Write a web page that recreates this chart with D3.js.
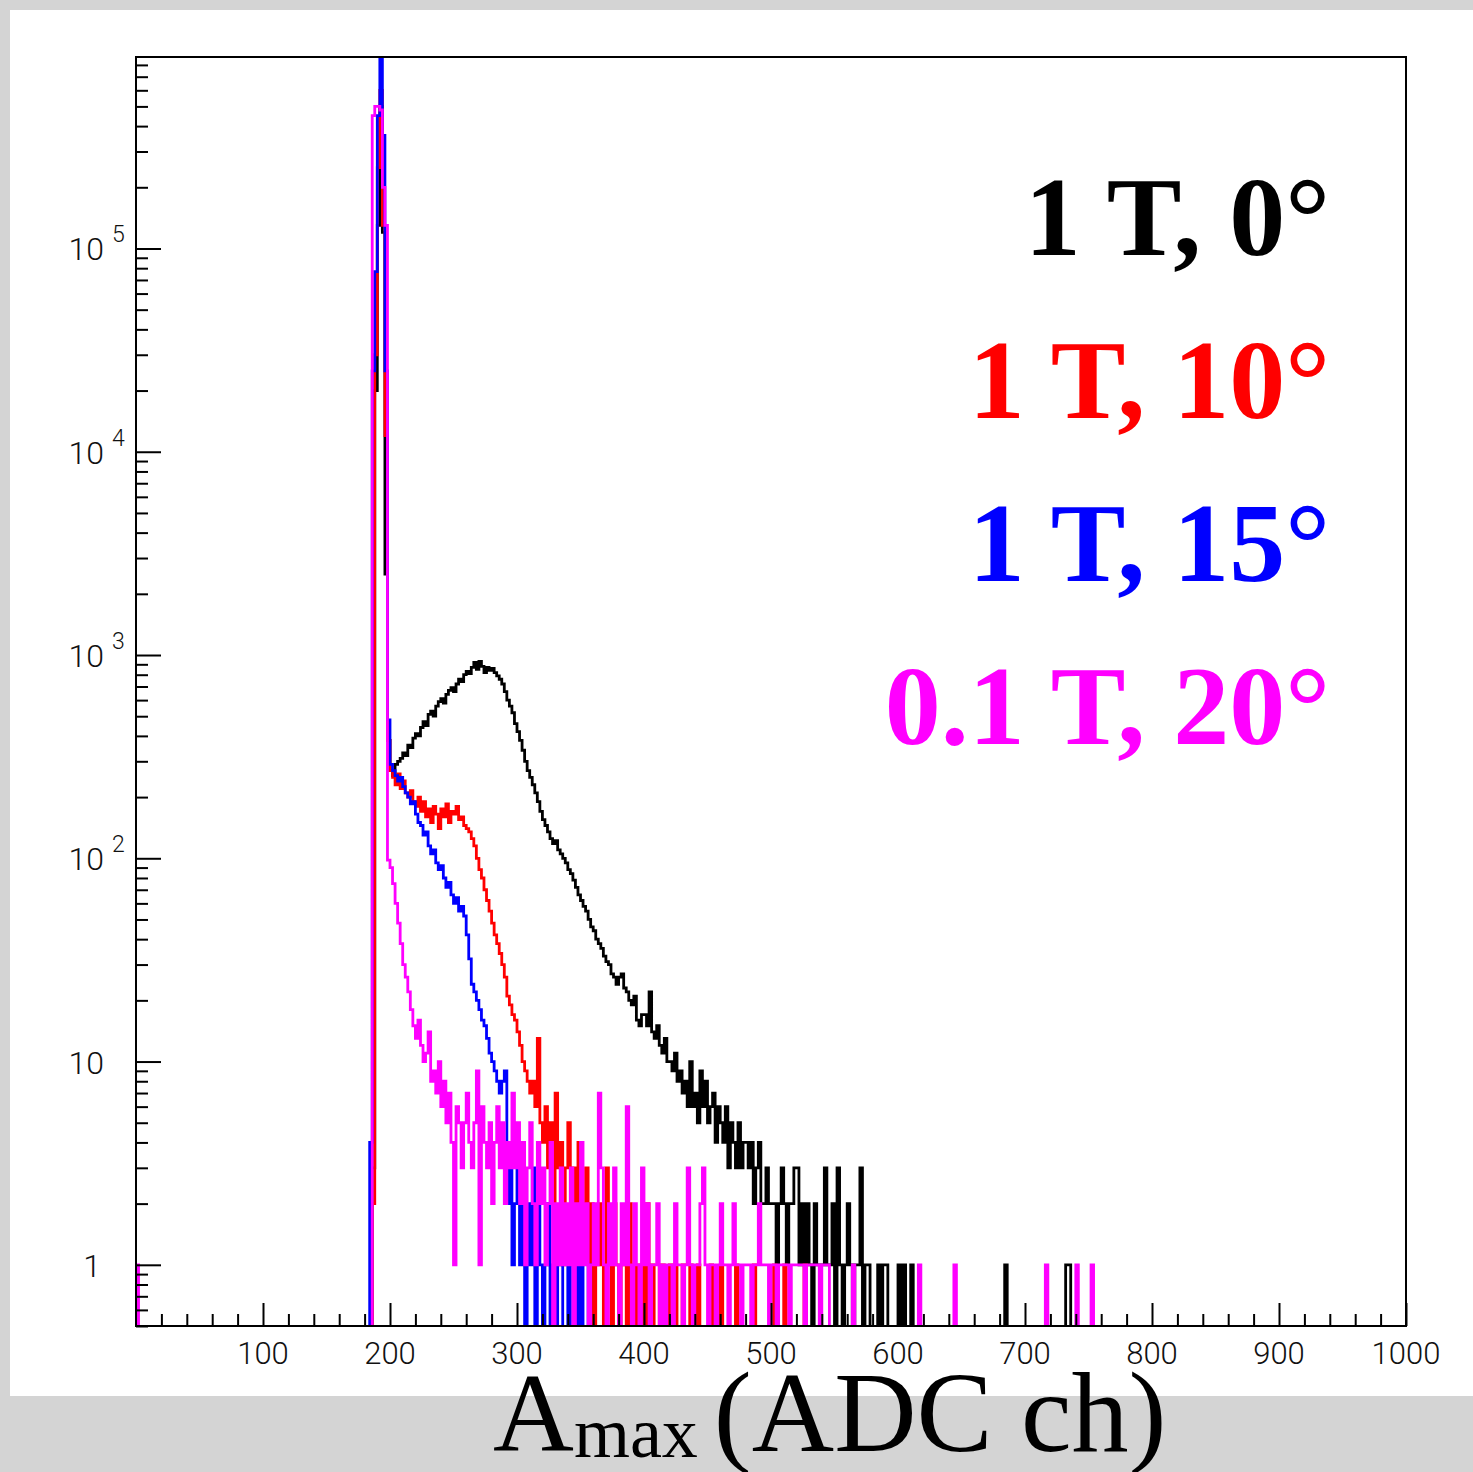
<!DOCTYPE html>
<html>
<head>
<meta charset="utf-8">
<script src="https://cdn.jsdelivr.net/npm/d3@7"></script>
<style>
  body { margin: 0; background: #d4d4d4; }
  svg { display: block; }
</style>
</head>
<body>
<div id="chart"></div>
<script>
// data: counts per 2-channel bin, dense part starts at channel 180
var binWidth = 2,
    denseStart = 180;

var blackCounts = [
  0, 0, 0, 3, 2e4, 1.3e5, 5e5, 1.2e5, 2500, 380,
  270, 255, 290, 300, 310, 330, 320, 360, 350, 390,
  410, 400, 440, 470, 450, 510, 530, 500, 560, 590,
  610, 580, 640, 670, 690, 660, 720, 760, 740, 800,
  830, 810, 870, 920, 850, 930, 880, 820, 870, 840,
  860, 820, 790, 760, 720, 660, 600, 560, 520, 460,
  420, 380, 340, 300, 270, 250, 230, 210, 190, 170,
  155, 145, 135, 125, 118, 122, 110, 105, 100, 95,
  88, 84, 78, 72, 66, 62, 58, 55, 50, 46,
  44, 40, 38, 36, 33, 31, 30, 27, 26, 24,
  26, 27, 23, 22, 20, 19, 21, 16, 15, 17,
  17, 15, 22, 14, 13, 15, 12, 11, 13, 10,
  10, 9, 11, 8, 9, 7, 8, 6, 10, 6,
  7, 5, 9, 6, 8, 5, 6, 7, 4, 6,
  5, 4, 6, 3, 5, 4, 3, 5, 3, 4,
  4, 3, 4, 2, 3, 4, 2, 2, 3, 2,
  2, 2, 1, 2, 3, 2, 1, 2, 2, 3,
  3, 1, 2, 1, 2, 1, 0, 2, 1, 1,
  1, 3, 1, 1, 2, 0, 3, 1, 0, 1,
  2, 1, 0, 1, 1, 3, 0, 1, 1, 0,
  0, 0, 1, 0, 1, 1, 0, 0, 0, 0,
  1, 0, 1, 0, 0, 1, 0, 0, 0, 0
];
var blackExtraCh = [684, 732, 734],
    blackExtraN = [1, 1, 1];

var redCounts = [
  0, 0, 0, 2, 3e4, 2.5e5, 6e5, 1.3e5, 1.2e4, 380,
  270, 250, 230, 260, 220, 240, 210, 200, 215, 190,
  180, 200, 170, 190, 160, 175, 150, 180, 165, 140,
  175, 160, 185, 150, 170, 165, 180, 155, 160, 145,
  140, 135, 125, 115, 100, 88, 80, 70, 62, 55,
  48, 42, 38, 34, 30, 26, 21, 19, 17, 16,
  14, 12, 10, 9, 8, 7, 8, 6, 13, 5,
  4, 6, 3, 5, 2, 7, 3, 4, 1, 3,
  5, 1, 3, 2, 4, 1, 2, 3, 1, 2,
  0, 1, 2, 1, 0, 3, 1, 0, 2, 1,
  0, 1, 1, 0, 2, 1, 0, 1, 0, 1,
  0, 2, 0, 1, 0, 0, 1, 1, 0, 0,
  1, 0, 1, 0, 0, 1, 0, 0, 1, 0,
  0, 1, 0, 0, 0, 0, 1, 0, 0, 0,
  1, 0, 0, 0, 0, 0, 1, 0, 0, 0,
  0, 0, 0, 1, 0, 0, 0, 0, 0, 0,
  0, 1, 0, 0, 0, 1, 0, 0, 0, 0,
  0, 0, 0, 1, 0, 0, 0, 0, 0, 0
];
var redExtraCh = [],
    redExtraN = [];

var blueCounts = [
  0, 0, 4, 2.5e4, 7.7e4, 4.5e5, 1.2e6, 3.6e5, 2.5e4, 480,
  290, 270, 255, 240, 250, 225, 210, 200, 185, 190,
  165, 150, 145, 130, 135, 115, 105, 110, 95, 88,
  92, 80, 72, 76, 66, 60, 64, 55, 58, 52,
  42, 32, 24, 22, 20, 18, 16, 15, 13, 11,
  10, 9, 8, 7, 8, 9, 2, 3, 1, 2,
  3, 1, 2, 0, 2, 1, 3, 0, 2, 1,
  0, 1, 2, 0, 1, 0, 1, 1, 0, 0,
  1, 0, 0, 1, 0, 1, 0, 0, 1, 0
];
var blueExtraCh = [],
    blueExtraN = [];

var magentaCounts = [
  0, 0, 0, 4.5e5, 5e5, 5e5, 4.8e5, 2e5, 1.3e5, 98,
  90, 75, 60, 48, 38, 30, 26, 22, 18, 15,
  13, 16, 12, 10, 11, 14, 8, 9, 7, 10,
  6, 8, 5, 7, 4, 1, 6, 5, 3, 5,
  7, 4, 3, 5, 9, 1, 6, 4, 3, 5,
  2, 4, 6, 3, 5, 2, 4, 3, 7, 3,
  5, 2, 4, 1, 3, 5, 2, 1, 4, 2,
  3, 1, 2, 4, 0, 2, 1, 3, 1, 2,
  1, 3, 0, 2, 1, 4, 1, 2, 0, 1,
  2, 1, 7, 3, 1, 0, 2, 1, 3, 1,
  0, 2, 1, 6, 1, 0, 2, 1, 0, 3,
  1, 2, 0, 1, 1, 2, 0, 1, 0, 1,
  1, 0, 2, 1, 1, 0, 1, 3, 1, 0,
  1, 1, 2, 3, 1, 0, 1, 1, 0, 1,
  2, 1, 1, 0, 1, 2, 1, 1, 0, 1,
  1, 1, 0, 1, 1, 2, 1, 1, 1, 0,
  1, 1, 0, 1, 1, 1, 1, 0, 1, 1,
  1, 1, 1, 0, 1, 1, 1, 1, 1, 0,
  1, 1, 1, 0, 0, 0, 0, 0, 0, 0
];
var magentaExtraCh = [0, 564, 616, 644, 716, 740, 752],
    magentaExtraN = [1, 1, 1, 1, 1, 1, 1];

var legendLabels = ["1 T, 0\u00b0", "1 T, 10\u00b0", "1 T, 15\u00b0", "0.1 T, 20\u00b0"],
    seriesColors = ["#000000", "#ff0000", "#0000ff", "#ff00ff"];

var xTickValues = [100, 200, 300, 400, 500, 600, 700, 800, 900, 1000],
    xTickLabels = ["100", "200", "300", "400", "500", "600", "700", "800", "900", "1000"];
var yTickValues = [1, 10, 100, 1000, 10000, 100000],
    yTickBase = ["1", "10", "10", "10", "10", "10"],
    yTickExp = ["", "", "2", "3", "4", "5"];

// layout
var W = 1473, H = 1472;
var frame = { l: 136, r: 1406, t: 57, b: 1326 };
var nBins = 1000 / binWidth;

function fillBins(dense, extraCh, extraN) {
  var bins = new Array(nBins).fill(0);
  dense.forEach(function(v, i) { bins[(denseStart + i * binWidth) / binWidth] = v; });
  extraCh.forEach(function(c, i) { bins[c / binWidth] = extraN[i]; });
  return bins;
}

var series = [
  fillBins(blackCounts, blackExtraCh, blackExtraN),
  fillBins(redCounts, redExtraCh, redExtraN),
  fillBins(blueCounts, blueExtraCh, blueExtraN),
  fillBins(magentaCounts, magentaExtraCh, magentaExtraN)
];

var x = d3.scaleLinear().domain([0, 1000]).range([frame.l, frame.r]);
var y = d3.scaleLog().domain([0.5, 8.75e5]).range([frame.b, frame.t]);

var svg = d3.select("#chart").append("svg").attr("width", W).attr("height", H);

// background panels
svg.append("rect").attr("x", 0).attr("y", 0).attr("width", W).attr("height", H).attr("fill", "#d4d4d4");
svg.append("rect").attr("x", 10).attr("y", 10).attr("width", W - 10).attr("height", 1396 - 10).attr("fill", "#ffffff");

svg.append("clipPath").attr("id", "plot-clip")
   .append("rect").attr("x", frame.l).attr("y", frame.t)
   .attr("width", frame.r - frame.l).attr("height", frame.b - frame.t);

function yv(v) { return v > 0 ? y(v) : frame.b + 4; }

var line = d3.line().x(function(d) { return d[0]; }).y(function(d) { return d[1]; })
             .curve(d3.curveStepAfter);

var plot = svg.append("g").attr("clip-path", "url(#plot-clip)");
series.forEach(function(bins, k) {
  var pts = [[x(0), frame.b + 4]];
  bins.forEach(function(v, i) { pts.push([x(i * binWidth), yv(v)]); });
  pts.push([x(1000), frame.b + 4]);
  plot.append("path").attr("d", line(pts)).attr("fill", "none")
      .attr("stroke", seriesColors[k]).attr("stroke-width", 2.8)
      .attr("stroke-linejoin", "miter");
});

// axes
var yMinor = [];
[0.1, 1, 10, 100, 1000, 10000, 100000].forEach(function(d) {
  for (var m = 2; m <= 9; m++) {
    var t = d * m;
    if (t >= 0.5 && t <= 8.75e5) yMinor.push(t);
  }
});
var xMinor = d3.range(20, 1000, 20).filter(function(d) { return d % 100 !== 0; });

function styleAxis(g) {
  g.select(".domain").remove();
  g.selectAll(".tick line").attr("stroke", "#000").attr("stroke-width", 2);
  g.selectAll(".tick text").remove();
}

svg.append("g").attr("transform", "translate(" + frame.l + ",0)")
   .call(d3.axisLeft(y).tickValues(yTickValues).tickSize(-25)).call(styleAxis);
svg.append("g").attr("transform", "translate(" + frame.l + ",0)")
   .call(d3.axisLeft(y).tickValues(yMinor).tickSize(-12)).call(styleAxis);
svg.append("g").attr("transform", "translate(0," + frame.b + ")")
   .call(d3.axisBottom(x).tickValues(xTickValues).tickSize(-23)).call(styleAxis);
svg.append("g").attr("transform", "translate(0," + frame.b + ")")
   .call(d3.axisBottom(x).tickValues(xMinor).tickSize(-12)).call(styleAxis);

svg.append("rect").attr("x", frame.l).attr("y", frame.t)
   .attr("width", frame.r - frame.l).attr("height", frame.b - frame.t)
   .attr("fill", "none").attr("stroke", "#000").attr("stroke-width", 2);

// tick labels
var labelFont = "Roboto, 'DejaVu Sans', sans-serif";
svg.append("g").selectAll("text").data(xTickValues).enter().append("text")
   .attr("x", function(d) { return x(d); }).attr("y", 1364)
   .attr("text-anchor", "middle").attr("font-family", labelFont).attr("font-weight", 300)
   .attr("font-size", 31).attr("fill", "#111")
   .text(function(d, i) { return xTickLabels[i]; });

var yl = svg.append("g").selectAll("g").data(yTickValues).enter().append("g");
yl.append("text")
  .attr("x", function(d, i) { return yTickBase[i] === "1" ? 101 : 104; })
  .attr("y", function(d) { return y(d) + 12; })
  .attr("text-anchor", "end").attr("font-family", labelFont).attr("font-weight", 300)
  .attr("font-size", 32).attr("fill", "#111")
  .text(function(d, i) { return yTickBase[i]; });
yl.append("text")
  .attr("x", 112).attr("y", function(d) { return y(d) - 6; })
  .attr("text-anchor", "start").attr("font-family", labelFont).attr("font-weight", 300)
  .attr("font-size", 23).attr("fill", "#111")
  .text(function(d, i) { return yTickExp[i]; });

// legend
var serif = "'Liberation Serif', 'Times New Roman', serif";
svg.append("g").selectAll("text").data(legendLabels).enter().append("text")
   .attr("x", 1330).attr("y", function(d, i) { return 255 + i * 163; })
   .attr("text-anchor", "end").attr("font-family", serif).attr("font-weight", "bold")
   .attr("font-size", 112).attr("fill", function(d, i) { return seriesColors[i]; })
   .text(function(d) { return d; });

// axis title
var title = svg.append("text").attr("x", 493).attr("y", 1451)
   .attr("font-family", serif).attr("fill", "#000");
title.append("tspan").attr("font-size", 112).text("A");
title.append("tspan").attr("font-size", 72).attr("dy", 6).text("max");
title.append("tspan").attr("font-size", 114).attr("dy", -6).attr("dx", 16).text("(ADC ch)");
</script>
</body>
</html>
